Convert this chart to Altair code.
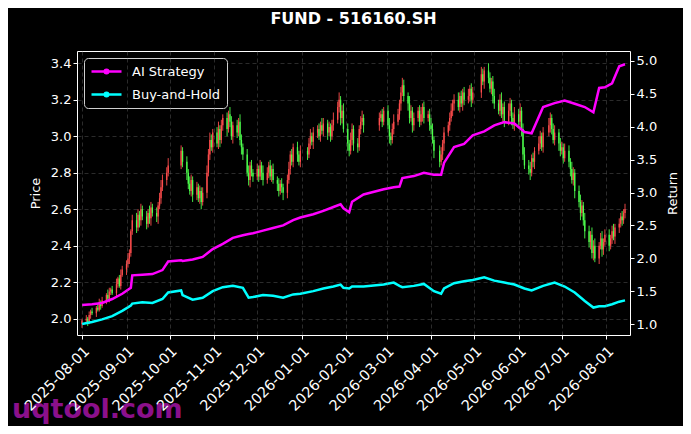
import altair as alt
import pandas as pd

# ---------------- data ----------------
holidays = ["2025-10-01", "2025-10-02", "2025-10-03", "2025-10-06", "2025-10-07", "2025-10-08",
            "2026-01-01", "2026-01-02",
            "2026-02-16", "2026-02-17", "2026-02-18", "2026-02-19", "2026-02-20", "2026-02-23",
            "2026-04-06", "2026-05-01", "2026-05-04", "2026-05-05", "2026-06-19"]

first_open = 1.97
close = [
    # Aug 2025
    1.99, 2.00, 1.98, 2.02, 2.04, 2.03, 2.06, 2.05, 2.09, 2.07, 2.10, 2.13, 2.11, 2.15, 2.16, 2.14,
    2.19, 2.22, 2.18, 2.24, 2.27,
    # Sep
    2.30, 2.33, 2.36, 2.48, 2.54, 2.50, 2.57, 2.54, 2.60, 2.56, 2.52, 2.58, 2.55, 2.61, 2.58,
    2.56, 2.62, 2.66, 2.72, 2.76, 2.80, 2.84,
    # Oct
    2.92, 2.86, 2.80, 2.74, 2.70, 2.76, 2.68, 2.72, 2.66, 2.70, 2.64, 2.69, 2.80, 2.90, 2.98, 2.94, 3.02,
    # Nov
    2.96, 3.04, 2.98, 3.06, 3.10, 3.04, 3.12, 3.08, 3.00, 3.06, 3.02, 3.08, 2.98, 2.94, 2.90,
    2.80, 2.76, 2.84, 2.80, 2.78,
    # Dec
    2.82, 2.78, 2.84, 2.80, 2.76, 2.80, 2.84, 2.78, 2.82, 2.76, 2.74, 2.70, 2.74, 2.72, 2.69,
    2.76, 2.82, 2.90, 2.86, 2.94, 2.90, 2.86, 2.92,
    # Jan 2026
    2.90, 2.96, 3.00, 2.97, 3.02, 3.04, 3.00, 3.06, 3.03, 3.07, 3.02, 3.05, 3.00, 3.06, 3.09,
    3.16, 3.20, 3.10, 3.14, 3.04,
    # Feb
    2.96, 2.92, 2.98, 3.04, 2.96, 2.94, 3.04, 3.08, 3.10, 3.06, 3.10, 3.12, 3.08, 3.14,
    # Mar
    3.06, 3.00, 2.98, 3.04, 3.08, 3.12, 3.18, 3.24, 3.28, 3.22, 3.18, 3.10, 3.14, 3.06, 3.10,
    3.14, 3.08, 3.12, 3.16, 3.10, 3.12, 3.06,
    # Apr
    3.04, 2.98, 2.92, 2.86, 2.90, 2.96, 3.02, 3.06, 3.10, 3.14, 3.18, 3.20, 3.16, 3.22, 3.18,
    3.24, 3.20, 3.22, 3.26, 3.20, 3.24,
    # May
    3.34, 3.30, 3.36, 3.32, 3.26, 3.30, 3.22, 3.18, 3.14, 3.20, 3.12, 3.16, 3.08, 3.14, 3.18, 3.10, 3.06, 3.12,
    # Jun
    3.08, 3.14, 3.04, 2.90, 2.84, 2.82, 2.80, 2.88, 2.86, 2.92, 2.96, 3.00, 2.94, 3.02,
    3.06, 3.10, 3.04, 2.98, 3.02, 2.96, 2.92,
    # Jul
    2.94, 2.88, 2.92, 2.86, 2.82, 2.76, 2.80, 2.70, 2.64, 2.58, 2.62, 2.54, 2.48,
    2.42, 2.46, 2.36, 2.40, 2.33, 2.40, 2.44, 2.38, 2.42, 2.46,
    # Aug
    2.40, 2.44, 2.48, 2.45, 2.50, 2.52, 2.56, 2.54, 2.58, 2.60,
]

wick_up = [  # hundredths above the candle body
    1, 2, 1, 2, 1, 2, 1, 2, 2, 1, 2, 1, 3, 2, 1, 2, 3, 1, 2, 3, 2,
    2, 3, 2, 1, 3, 4, 3, 2, 3, 2, 3, 2, 4, 3, 2, 3, 2, 3, 4, 3, 3, 4,
    3, 2, 3, 2, 4, 3, 2, 3, 2, 3, 2, 3, 4, 3, 4, 3, 2,
    3, 4, 2, 3, 2, 3, 2, 4, 3, 2, 3, 2, 4, 3, 2, 3, 4, 2, 3, 2,
    3, 2, 3, 2, 4, 3, 2, 3, 2, 3, 2, 3, 2, 3, 2, 3, 4, 2, 3, 2, 3, 2, 3,
    2, 3, 4, 2, 3, 2, 3, 2, 4, 3, 2, 3, 2, 3, 4, 3, 4, 2, 3, 4,
    3, 2, 4, 3, 2, 3, 2, 3, 4, 2, 3, 2, 3, 2,
    3, 4, 2, 3, 4, 3, 2, 3, 4, 3, 2, 4, 3, 2, 3, 2, 3, 4, 2, 3, 2, 3,
    4, 3, 2, 3, 4, 2, 3, 2, 3, 4, 2, 3, 4, 2, 3, 2, 3, 4, 2, 3, 3,
    4, 3, 2, 4, 3, 2, 3, 4, 2, 3, 4, 2, 3, 4, 3, 2, 3, 4,
    3, 4, 2, 3, 4, 3, 4, 2, 3, 2, 4, 3, 2, 3, 4, 3, 2, 3, 4, 2, 3,
    3, 2, 4, 3, 2, 4, 3, 2, 3, 4, 3, 2, 4, 3, 2, 4, 3, 4, 2, 3, 4, 2, 3,
    3, 2, 3, 4, 2, 3, 2, 3, 2, 3,
]
wick_dn = [  # hundredths below the candle body
    2, 1, 2, 1, 2, 1, 2, 1, 1, 2, 1, 2, 1, 2, 2, 1, 2, 2, 1, 2, 1,
    3, 2, 3, 2, 2, 3, 2, 4, 3, 2, 3, 2, 3, 4, 2, 3, 4, 2, 3, 2, 3, 2,
    2, 3, 4, 3, 2, 3, 4, 3, 2, 3, 4, 2, 3, 2, 3, 2, 3,
    2, 3, 4, 2, 3, 4, 2, 3, 2, 4, 3, 2, 3, 4, 3, 2, 3, 4, 2, 3,
    2, 3, 2, 4, 3, 2, 3, 2, 3, 2, 4, 3, 2, 3, 4, 3, 2, 3, 2, 3, 4, 2, 3,
    3, 2, 3, 2, 4, 3, 2, 3, 2, 3, 4, 2, 3, 2, 3, 2, 3, 4, 3, 2,
    4, 3, 2, 3, 4, 3, 2, 3, 2, 4, 3, 2, 3, 2,
    2, 4, 3, 2, 3, 2, 3, 4, 2, 3, 4, 3, 2, 4, 3, 2, 3, 2, 4, 3, 2, 3,
    3, 2, 4, 3, 2, 3, 4, 2, 3, 2, 3, 4, 2, 3, 2, 4, 3, 2, 3, 4, 2,
    3, 2, 4, 3, 2, 3, 4, 3, 2, 3, 2, 4, 3, 2, 3, 4, 2, 3,
    2, 3, 4, 3, 2, 3, 4, 2, 3, 4, 2, 3, 2, 3, 2, 4, 3, 2, 3, 4, 3,
    2, 3, 2, 3, 4, 2, 3, 4, 3, 4, 2, 3, 4, 3, 4, 3, 4, 2, 3, 2, 4, 3, 2,
    3, 2, 3, 2, 4, 3, 2, 3, 2, 3,
]

line_dates = [
    "2025-08-01", "2025-08-08", "2025-08-15", "2025-08-22", "2025-08-29", "2025-09-04", "2025-09-05",
    "2025-09-12", "2025-09-19", "2025-09-26", "2025-09-30", "2025-10-09", "2025-10-10", "2025-10-17",
    "2025-10-24", "2025-10-31", "2025-11-07", "2025-11-14", "2025-11-21", "2025-11-25", "2025-11-28",
    "2025-12-05", "2025-12-12", "2025-12-19", "2025-12-26", "2025-12-31", "2026-01-09", "2026-01-16",
    "2026-01-23", "2026-01-28", "2026-01-30", "2026-02-03", "2026-02-05", "2026-02-13", "2026-02-27",
    "2026-03-06", "2026-03-10", "2026-03-12", "2026-03-20", "2026-03-27", "2026-04-03", "2026-04-08",
    "2026-04-10", "2026-04-17", "2026-04-24", "2026-04-30", "2026-05-08", "2026-05-15", "2026-05-22",
    "2026-05-29", "2026-06-05", "2026-06-10", "2026-06-18", "2026-06-26", "2026-07-03", "2026-07-10",
    "2026-07-17", "2026-07-23", "2026-07-27", "2026-07-31", "2026-08-05", "2026-08-10", "2026-08-14",
]
ai_strategy = [
    1.29, 1.30, 1.32, 1.38, 1.46, 1.55, 1.74, 1.75, 1.76, 1.82, 1.95, 1.97, 1.96, 1.98,
    2.02, 2.14, 2.22, 2.31, 2.35, 2.37, 2.38, 2.42, 2.46, 2.50, 2.58, 2.62, 2.67, 2.72,
    2.78, 2.82, 2.76, 2.70, 2.86, 2.97, 3.05, 3.08, 3.09, 3.22, 3.25, 3.30, 3.27, 3.27,
    3.45, 3.69, 3.74, 3.87, 3.93, 4.02, 4.07, 4.05, 3.92, 3.90, 4.30, 4.36, 4.40, 4.35,
    4.30, 4.22, 4.59, 4.60, 4.66, 4.92, 4.95,
]
buy_and_hold = [
    1.00, 1.03, 1.07, 1.12, 1.20, 1.28, 1.31, 1.33, 1.32, 1.38, 1.48, 1.51, 1.44, 1.37,
    1.40, 1.50, 1.56, 1.58, 1.55, 1.40, 1.41, 1.44, 1.43, 1.40, 1.45, 1.46, 1.50, 1.54,
    1.57, 1.60, 1.55, 1.54, 1.57, 1.57, 1.60, 1.63, 1.58, 1.56, 1.58, 1.61, 1.50, 1.46,
    1.54, 1.62, 1.65, 1.67, 1.71, 1.66, 1.63, 1.60, 1.54, 1.51, 1.58, 1.63, 1.57, 1.48,
    1.35, 1.25, 1.27, 1.27, 1.30, 1.34, 1.36,
]

# ---------------- tables ----------------
days = pd.bdate_range("2025-08-01", "2026-08-14")
days = [d.strftime("%Y-%m-%d") for d in days if d.strftime("%Y-%m-%d") not in holidays]
n = min(len(days), len(close), len(wick_up), len(wick_dn))
opens = [first_open] + close[:-1]
candles = pd.DataFrame({
    "date": days[:n],
    "open": opens[:n],
    "close": close[:n],
    "high": [round(max(o, c) + u / 100, 3) for o, c, u in zip(opens[:n], close[:n], wick_up[:n])],
    "low": [round(min(o, c) - d / 100, 3) for o, c, d in zip(opens[:n], close[:n], wick_dn[:n])],
})

lines = pd.DataFrame({
    "date": line_dates * 2,
    "series": ["AI Strategy"] * len(line_dates) + ["Buy-and-Hold"] * len(line_dates),
    "value": ai_strategy + buy_and_hold,
})

RED, GREEN = "#ff4d4d", "#4dff4d"
FONT = "DejaVu Sans"

xscale = alt.Scale(type="utc",
                   domain=[alt.DateTime(year=2025, month=8, date=1, utc=True),
                           alt.DateTime(year=2026, month=8, date=14, utc=True)])
xaxis = alt.Axis(title=None, format="%Y-%m-%d", tickCount={"interval": "month", "step": 1},
                 labelAngle=-45, labelAlign="right", labelBaseline="top", labelFlush=False,
                 labelOverlap=False, labelPadding=5, labelFontSize=14.5, grid=True, zindex=1)
left_axis = alt.Axis(title="Price", orient="left", values=[2.0, 2.2, 2.4, 2.6, 2.8, 3.0, 3.2, 3.4],
                     format=".1f", grid=True, titlePadding=8)
right_axis = alt.Axis(title="Return", orient="right", values=[1.0, 1.5, 2.0, 2.5, 3.0, 3.5, 4.0, 4.5, 5.0],
                      format=".1f", grid=False, titlePadding=23, titleAngle=270)
price_scale = alt.Scale(domain=[1.911, 3.467], nice=False, zero=False)
ret_scale = alt.Scale(domain=[0.833, 5.152], nice=False, zero=False)

candle_color = alt.condition("datum.close >= datum.open", alt.value(RED), alt.value(GREEN))

wick = alt.Chart(candles).mark_rule(strokeWidth=0.9).encode(
    x=alt.X("date:T", scale=xscale, axis=xaxis),
    y=alt.Y("low:Q", scale=price_scale, axis=left_axis),
    y2="high:Q",
    color=candle_color,
)
body = alt.Chart(candles).mark_bar(size=1.3).encode(
    x=alt.X("date:T", scale=xscale),
    y=alt.Y("open:Q", scale=price_scale),
    y2="close:Q",
    color=candle_color,
)

legend = alt.Legend(
    title=None, orient="top-left", offset=7, fillColor="#000000", strokeColor="#d0d0d0",
    cornerRadius=4, padding=6, labelColor="white", labelFontSize=13, labelFont=FONT,
    symbolOffset=9, labelOffset=18, rowPadding=8,
    symbolType="M-2.5,0L2.5,0M-0.3,0A0.3,0.3,0,1,0,0.3,0A0.3,0.3,0,1,0,-0.3,0",
    symbolSize=144, symbolStrokeWidth=2.5,
)
ret_lines = alt.Chart(lines).mark_line(strokeWidth=2.5).encode(
    x=alt.X("date:T", scale=xscale),
    y=alt.Y("value:Q", scale=ret_scale, axis=right_axis),
    color=alt.Color("series:N",
                    scale=alt.Scale(domain=["AI Strategy", "Buy-and-Hold"], range=["#ff00ff", "#00ffff"]),
                    legend=legend),
)

watermark = alt.Chart(pd.DataFrame({"t": ["uqtool.com"]})).mark_text(
    font=FONT, fontSize=27, fontWeight="bold", color="#8b108b", align="left", baseline="alphabetic"
).encode(text="t:N", x=alt.value(-65), y=alt.value(367))

chart = alt.layer(alt.layer(wick, body), ret_lines, watermark).resolve_scale(
    y="independent"
).properties(
    width=553, height=284,
    autosize=alt.AutoSizeParams(type="none"),
    padding={"left": 69, "top": 43, "right": 53, "bottom": 91},
    background="#000000",
    title=alt.TitleParams("FUND - 516160.SH", color="white", fontSize=16, fontWeight="bold",
                          font=FONT, anchor="middle", offset=24),
).configure_view(
    stroke="white", strokeWidth=1
).configure_axis(
    labelColor="white", labelFontSize=13, labelFont=FONT,
    titleColor="white", titleFontSize=13, titleFont=FONT, titleFontWeight="normal",
    tickColor="white", tickSize=4, tickWidth=1, domain=False,
    gridColor="#707070", gridOpacity=0.55, gridDash=[4, 3], gridWidth=0.7,
)

chart.save("out.html", embed_options={"renderer": "svg", "actions": False})
